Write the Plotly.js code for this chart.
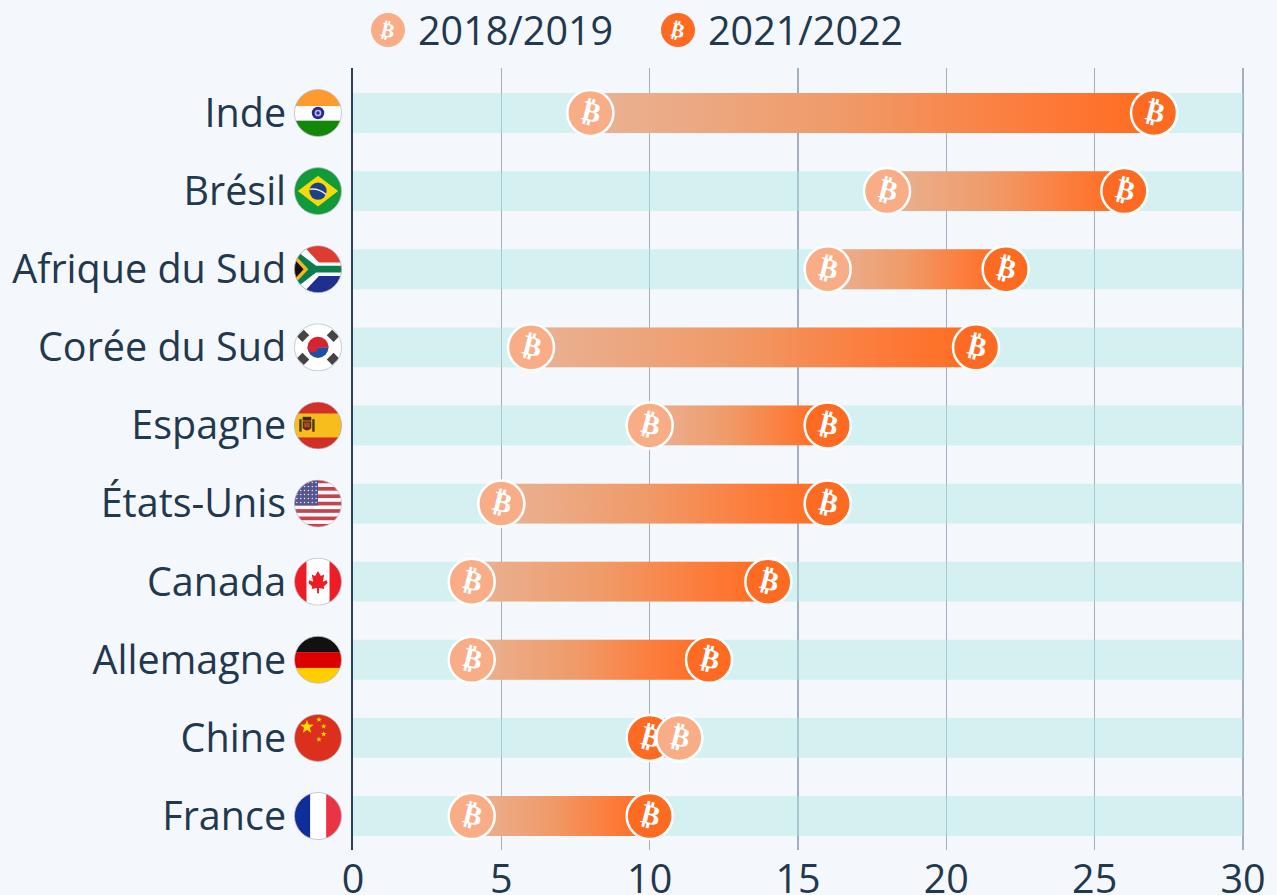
<!DOCTYPE html>
<html>
<head>
<meta charset="utf-8">
<script src="https://cdn.plot.ly/plotly-3.0.1.min.js"></script>
<style>html,body{margin:0;padding:0;background:#f4f8fc;overflow:hidden}</style>
</head>
<body>
<div id="chart" style="width:1277px;height:895px"></div>
<script>
const countries = ["Inde","Brésil","Afrique du Sud","Corée du Sud","Espagne","États-Unis","Canada","Allemagne","Chine","France"];
const values2018 = [8,18,16,6,10,5,4,4,11,4];
const values2021 = [27,26,22,21,16,16,14,12,10,10];
const seriesNames = ["2018/2019","2021/2022"];
const xTicks = [0,5,10,15,20,25,30];
const coin = "\u20BF";

const C = {bg:"#f4f8fc",ink:"#22384f",light:"#f9ad87",dark:"#fd6a22",band:"rgba(175,230,226,0.45)",grid:"#a3aebf"};
const Y_RANGE = [9.435,-0.576];
const X_RANGE = [0,30.1];
const M = {l:353,r:31,t:68,b:45};
const H = 895, W = 1277;

function flagSvg(inner){
  const s = '<svg xmlns="http://www.w3.org/2000/svg" width="100" height="100" viewBox="0 0 100 100"><defs><clipPath id="c"><circle cx="50" cy="50" r="49"/></clipPath></defs><g clip-path="url(#c)">'+inner+'</g><circle cx="50" cy="50" r="49" fill="none" stroke="#b9bcc2" stroke-width="1.6"/></svg>';
  return "data:image/svg+xml;base64,"+btoa(s);
}
function rect(x,y,w,h,f){return `<rect x="${x}" y="${y}" width="${w}" height="${h}" fill="${f}"/>`;}
function usStripes(){let s=rect(0,0,100,100,"#fff");for(let i=0;i<7;i++)s+=rect(0,i*15.4,100,7.7,"#c8414c");s+=rect(0,0,50,54,"#55558f");
  for(let r=0;r<6;r++)for(let c=0;c<6;c++)s+=`<circle cx="${6+c*8}" cy="${6+r*8.4}" r="1.6" fill="#e8e8f4"/>`;return s;}
function star(cx,cy,r,f){let p=[];for(let i=0;i<10;i++){const a=-Math.PI/2+i*Math.PI/5,q=i%2?r*0.42:r;p.push((cx+q*Math.cos(a)).toFixed(1)+","+(cy+q*Math.sin(a)).toFixed(1));}return `<polygon points="${p.join(" ")}" fill="${f}"/>`;}
const flags = {
 "Inde": rect(0,0,100,36,"#ff9a2e")+rect(0,36,100,30,"#fff")+rect(0,66,100,34,"#138808")+'<circle cx="50" cy="50" r="13" fill="#2b2b8f"/><circle cx="50" cy="50" r="7" fill="#b9b9e6"/><circle cx="50" cy="50" r="3.5" fill="#2b2b8f"/>',
 "Brésil": rect(0,0,100,100,"#119a3a")+'<polygon points="50,18 92,50 50,82 8,50" fill="#f5d90a"/><circle cx="50" cy="50" r="18" fill="#1f3f86"/><path d="M33 46 Q52 44 67 57" stroke="#e8f0e0" stroke-width="3" fill="none"/>',
 "Afrique du Sud": rect(0,0,100,50,"#de3b31")+rect(0,50,100,50,"#1f2f8f")+'<polygon points="0,0 18,0 52,36 100,36 100,64 52,64 18,100 0,100" fill="#fff"/><polygon points="0,8 46,43 100,43 100,57 46,57 0,92" fill="#0b7d4c"/><polygon points="0,18 30,50 0,82" fill="#f6b81a"/><polygon points="0,28 20,50 0,72" fill="#111"/>',
 "Corée du Sud": rect(0,0,100,100,"#fff")+'<path d="M28 50a22 22 0 0 1 44 0z" fill="#d8232f"/><path d="M28 50a22 22 0 0 0 44 0z" fill="#1d4fa8"/><path d="M28 50a11 11 0 0 0 22 0a11 11 0 0 1 22 0" fill="#d8232f"/><g fill="#444"><rect x="9" y="18" width="20" height="16" transform="rotate(-45 19 26)"/><rect x="71" y="18" width="20" height="16" transform="rotate(45 81 26)"/><rect x="9" y="66" width="20" height="16" transform="rotate(45 19 74)"/><rect x="71" y="66" width="20" height="16" transform="rotate(-45 81 74)"/></g>',
 "Espagne": rect(0,0,100,100,"#d22f27")+rect(0,25,100,50,"#f6bd1d")+'<rect x="11" y="37" width="5" height="26" fill="#4a3818"/><rect x="38" y="37" width="5" height="26" fill="#4a3818"/><rect x="18" y="32" width="18" height="8" fill="#3d2a14"/><path d="M18 41h18v15q-9 9-18 0z" fill="#5a2c18"/><rect x="21" y="44" width="12" height="10" fill="#a8462a"/>',
 "États-Unis": usStripes(),
 "Canada": rect(0,0,100,100,"#fff")+rect(0,0,26,100,"#ee1c25")+rect(74,0,26,100,"#ee1c25")+'<polygon points="50,28 56,38 63,35 60,50 68,47 70,53 62,60 63,65 52,63 52,74 48,74 48,63 37,65 38,60 30,53 32,47 40,50 37,35 44,38" fill="#ee1c25"/>',
 "Allemagne": rect(0,0,100,34,"#111")+rect(0,34,100,33,"#dd0000")+rect(0,67,100,33,"#ffce00"),
 "Chine": rect(0,0,100,100,"#dc2f1c")+star(27,27,15,"#ffde00")+star(52,12,6,"#ffde00")+star(62,26,6,"#ffde00")+star(62,42,6,"#ffde00")+star(52,53,6,"#ffde00"),
 "France": rect(0,0,34,100,"#0e2f9a")+rect(34,0,33,100,"#fff")+rect(67,0,33,100,"#ea3344")
};

const plotW = W-M.l-M.r, plotH = H-M.t-M.b;
const images = countries.map((c,i)=>({
  source: flagSvg(flags[c]), xref:"paper", yref:"paper",
  x:(318-M.l)/plotW,
  y:1-(i-Y_RANGE[1])/(Y_RANGE[0]-Y_RANGE[1]),
  sizex:48/plotW, sizey:48/plotH, xanchor:"center", yanchor:"middle", sizing:"contain", layer:"above"
}));

const coinFont = c=>({family:"DejaVu Sans",size:28,color:c,weight:700});
const traces = [
 {type:"bar",orientation:"h",y:countries,x:countries.map(()=>xTicks[xTicks.length-1]),base:0,width:0.51,marker:{color:C.band,line:{width:0}},showlegend:false,hoverinfo:"skip"},
 {type:"bar",orientation:"h",y:countries,x:values2021.map((v,i)=>v-values2018[i]),base:values2018,width:0.51,marker:{color:C.dark,line:{width:0}},showlegend:false,hoverinfo:"skip"},
 {type:"scatter",mode:"markers+text",name:seriesNames[1],legendrank:2,y:countries,x:values2021,text:countries.map(()=>coin),textposition:"middle center",textfont:coinFont("#fff"),
  marker:{size:46,color:C.dark,line:{color:"#fff",width:2.5}},cliponaxis:false},
 {type:"scatter",mode:"markers+text",name:seriesNames[0],legendrank:1,y:countries,x:values2018,text:countries.map(()=>coin),textposition:"middle center",textfont:coinFont("#fff"),
  marker:{size:46,color:C.light,line:{color:"#fff",width:2.5}},cliponaxis:false}
];
const FS = 39.5;
const layout = {
 width:W,height:H,margin:M,paper_bgcolor:C.bg,plot_bgcolor:C.bg,barmode:"overlay",
 font:{family:"Open Sans",color:C.ink,size:FS},
 xaxis:{range:X_RANGE,tickvals:xTicks,ticktext:xTicks.map(String),showgrid:true,gridcolor:C.grid,gridwidth:1.2,zeroline:false,showline:false,ticks:"",tickfont:{size:FS,color:C.ink},ticklabelstandoff:2,fixedrange:true},
 yaxis:{type:"category",categoryorder:"array",categoryarray:countries,range:Y_RANGE,showgrid:false,zeroline:false,showline:true,linecolor:"#2c4157",linewidth:2,ticks:"outside",ticklen:57,tickcolor:"rgba(0,0,0,0)",tickfont:{size:FS,color:C.ink},fixedrange:true},
 legend:{orientation:"h",x:0.02,xanchor:"left",y:0.99,yanchor:"top",font:{size:FS,color:C.ink},itemsizing:"trace",itemwidth:50,entrywidth:225,entrywidthmode:"pixels",traceorder:"normal",bgcolor:"rgba(0,0,0,0)"},
 images:images,showlegend:true
};

Plotly.newPlot("chart",traces,layout,{displayModeBar:false,staticPlot:true}).then(gd=>{
  const svg = gd.querySelector(".main-svg");
  const NS = "http://www.w3.org/2000/svg";
  const g = document.createElementNS(NS,"linearGradient");
  g.setAttribute("id","barGrad");
  [[0,"#e9b294"],[0.45,"#f09a68"],[0.8,"#fd7a38"],[1,"#ff6c20"]].forEach(([o,c])=>{
    const st = document.createElementNS(NS,"stop");st.setAttribute("offset",o);st.setAttribute("stop-color",c);g.appendChild(st);
  });
  svg.querySelector("defs").appendChild(g);
  gd.querySelectorAll(".barlayer .trace")[1].querySelectorAll("path").forEach(p=>{p.style.fill="url(#barGrad)";});
  gd.querySelectorAll(".textpoint text").forEach(t=>{
    t.setAttribute("transform",`translate(-1 1) rotate(14 ${t.getAttribute("x")} ${t.getAttribute("y")})`);
  });
  // legend: enlarge the symbols and add the coin glyph, then move it above the plot
  const legend = gd.querySelector(".legend");
  let first = null;
  legend.querySelectorAll(".traces").forEach(tr=>{
    const lp = tr.querySelector(".legendpoints");
    const path = lp.querySelector("path.scatterpts");
    lp.querySelectorAll(".legendpoints text, .pointtext").forEach(t=>t.remove());
    path.setAttribute("d","M17,0A17,17 0 1,1 0,-17A17,17 0 0,1 17,0Z");
    path.style.strokeWidth="0";
    const tf = path.getAttribute("transform")||"";
    const t = document.createElementNS(NS,"text");
    t.textContent = coin;
    t.setAttribute("text-anchor","middle");
    t.setAttribute("y","7");
    t.setAttribute("transform",tf+" rotate(14)");
    t.style.cssText="font-family:'DejaVu Sans';font-size:20px;font-weight:700;fill:#fff";
    path.parentNode.appendChild(t);
    if(!first) first = path;
  });
  const r = first.getBoundingClientRect();
  const dx = 388-(r.left+r.right)/2, dy = 30-(r.top+r.bottom)/2;
  const m = /translate\(([-\d.]+)[ ,]+([-\d.]+)\)/.exec(legend.getAttribute("transform"));
  legend.setAttribute("transform",`translate(${parseFloat(m[1])+dx},${parseFloat(m[2])+dy})`);
});
</script>
</body>
</html>
